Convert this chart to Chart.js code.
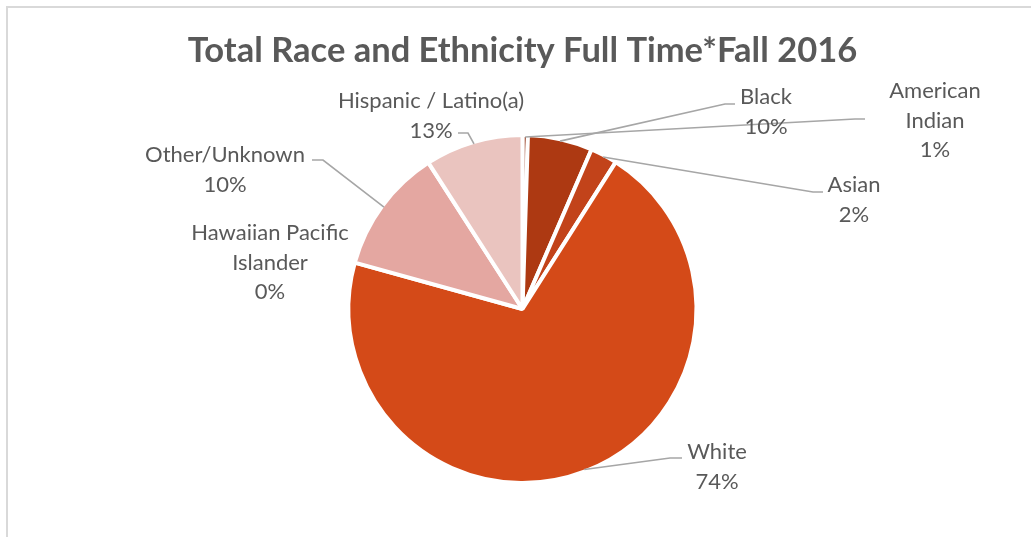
<!DOCTYPE html>
<html>
<head>
<meta charset="utf-8">
<script src="https://cdn.jsdelivr.net/npm/chart.js@4.4.1/dist/chart.umd.min.js"></script>
<style>
  html, body { margin: 0; padding: 0; background: #ffffff; }
  #wrap { position: relative; width: 1031px; height: 537px; overflow: hidden; }
  #frame { position: absolute; left: 6px; top: 6px; right: -10px; bottom: -10px;
           border-top: 2px solid #d9d9d9; border-left: 2px solid #d9d9d9; }
  canvas { position: absolute; left: 0; top: 0; }
</style>
</head>
<body>
<div id="wrap">
  <div id="frame"></div>
  <canvas id="c" width="1031" height="537"></canvas>
</div>
<script>
// ---- data ----
const titleText = 'Total Race and Ethnicity Full Time*Fall 2016';
const categories = ['American Indian', 'Black', 'Asian', 'White', 'Hawaiian Pacific Islander', 'Other/Unknown', 'Hispanic / Latino(a)'];
// slice sizes as drawn (percent of circle)
const sliceValues = [0.5, 6.0, 2.5, 70.3, 0, 11.6, 9.1];
// percentages printed in the data labels
const labelPercents = ['1%', '10%', '2%', '74%', '0%', '10%', '13%'];
// label name lines as wrapped in the picture
const labelNames = [['American', 'Indian'], ['Black'], ['Asian'], ['White'], ['Hawaiian Pacific', 'Islander'], ['Other/Unknown'], ['Hispanic / Latino(a)']];

// ---- styles ----
const sliceColors = ['#8e2c0f', '#ad3912', '#c2431a', '#d44a18', '#d9826e', '#e4a7a1', '#eac4bf'];

// ---- label layout (text anchor and leader elbow/end points) ----
const labelLayout = [
  { x: 935, y: 91,  elbow: [855, 119], end: [865, 119] },
  { x: 766, y: 97,  elbow: [725, 104], end: [735, 104] },
  { x: 854, y: 185, elbow: [813, 192], end: [823, 192] },
  { x: 717, y: 452, elbow: [670, 458], end: [682, 458] },
  { x: 270, y: 233, elbow: null, end: null },
  { x: 225, y: 155, elbow: [323, 160], end: [312, 160] },
  { x: 431, y: 101, elbow: [468, 133], end: [458, 133] }
];

const LABEL_FONT = '22px Lato';
const LABEL_LINE = 29.5;

const labelPlugin = {
  id: 'excelLabels',
  afterDatasetsDraw(chart) {
    const ctx = chart.ctx;
    const meta = chart.getDatasetMeta(0);
    const bw = chart.data.datasets[0].borderWidth || 0;
    ctx.save();
    meta.data.forEach((arc, i) => {
      const p = arc.getProps(['x', 'y', 'startAngle', 'endAngle', 'outerRadius'], true);
      const lay = labelLayout[i];
      if (lay.elbow) {
        const mid = (p.startAngle + p.endAngle) / 2;
        const r = p.outerRadius - bw / 2;
        const sx = p.x + Math.cos(mid) * r;
        const sy = p.y + Math.sin(mid) * r;
        ctx.beginPath();
        ctx.strokeStyle = '#a6a6a6';
        ctx.lineWidth = 1.6;
        ctx.moveTo(sx, sy);
        ctx.lineTo(lay.elbow[0], lay.elbow[1]);
        ctx.lineTo(lay.end[0], lay.end[1]);
        ctx.stroke();
      }
      const lines = labelNames[i].concat([labelPercents[i]]);
      ctx.fillStyle = '#595959';
      ctx.font = LABEL_FONT;
      ctx.textAlign = 'center';
      ctx.textBaseline = 'middle';
      lines.forEach((t, k) => ctx.fillText(t, lay.x, lay.y + k * LABEL_LINE));
    });
    ctx.restore();
  }
};

new Chart(document.getElementById('c'), {
  type: 'pie',
  data: {
    labels: categories,
    datasets: [{
      data: sliceValues,
      backgroundColor: sliceColors,
      borderColor: '#ffffff',
      borderWidth: 4
    }]
  },
  options: {
    responsive: false,
    animation: false,
    devicePixelRatio: 1,
    layout: { padding: { left: 14, right: 0, top: 0, bottom: 52 } },
    plugins: {
      legend: { display: false },
      tooltip: { enabled: false },
      title: {
        display: true,
        text: titleText,
        color: '#595959',
        font: { family: 'Lato', size: 34.5, weight: 'bold' },
        padding: { top: 30.3, bottom: 61.3 }
      }
    }
  },
  plugins: [labelPlugin]
});
</script>
</body>
</html>
